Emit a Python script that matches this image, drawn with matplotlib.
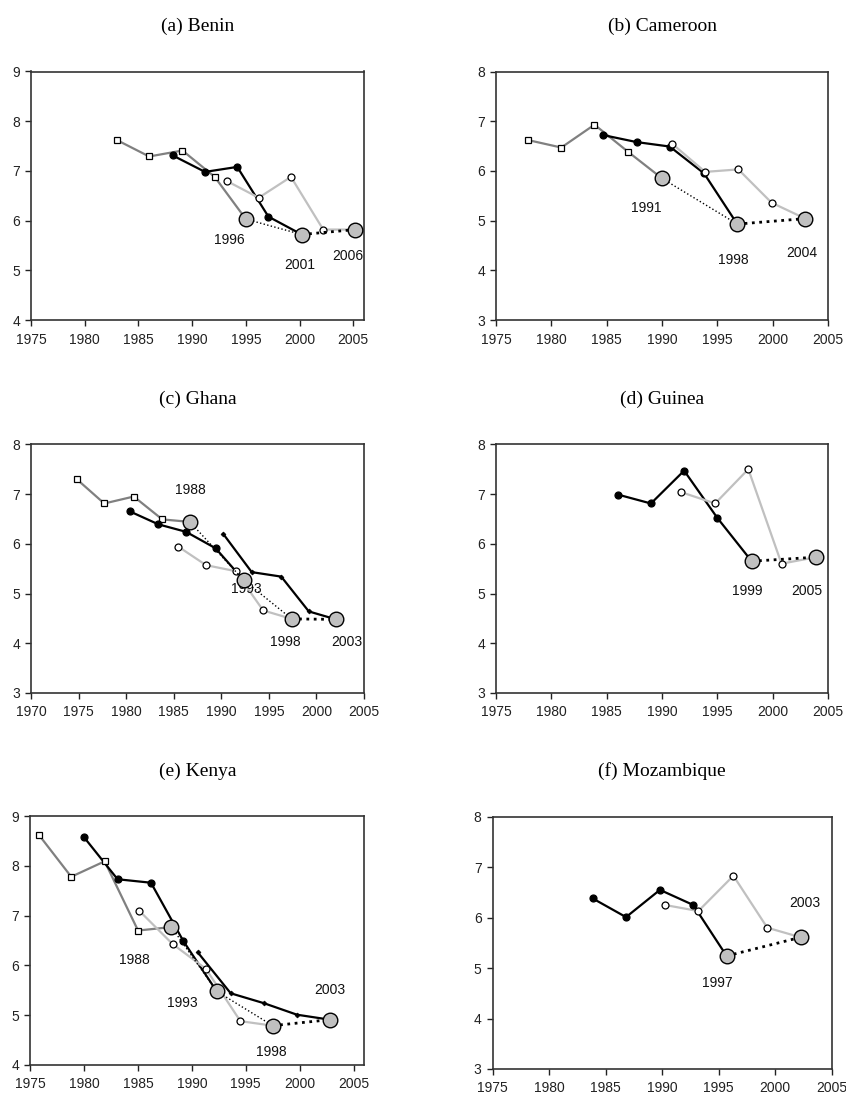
import matplotlib
matplotlib.use('Agg')
import matplotlib.pyplot as plt

W, H = 846, 1097

# ---- data (year, TFR) ----
# (a) Benin
benin_sq_x = [1983.0, 1986.0, 1989.1, 1992.1]
benin_sq_y = [7.62, 7.29, 7.41, 6.88]
benin_bc_x = [1988.2, 1991.2, 1994.2, 1997.1]
benin_bc_y = [7.31, 6.98, 7.08, 6.08]
benin_oc_x = [1993.2, 1996.2, 1999.2, 2002.2]
benin_oc_y = [6.80, 6.46, 6.88, 5.82]
benin_sv_x = [1995.0, 2000.2, 2005.2]
benin_sv_y = [6.03, 5.72, 5.82]
benin_labels = ["1996", "2001", "2006"]
benin_lab_x = [1993.5, 2000.0, 2004.5]
benin_lab_y = [5.61, 5.11, 5.28]

# (b) Cameroon
cam_sq_x = [1977.9, 1980.9, 1983.9, 1986.9]
cam_sq_y = [6.62, 6.47, 6.93, 6.39]
cam_bc_x = [1984.7, 1987.7, 1990.7, 1993.8]
cam_bc_y = [6.72, 6.58, 6.49, 5.95]
cam_oc_x = [1990.9, 1993.9, 1996.9, 1999.9]
cam_oc_y = [6.55, 5.98, 6.03, 5.36]
cam_sv_x = [1990.0, 1996.8, 2002.95]
cam_sv_y = [5.85, 4.93, 5.04]
cam_labels = ["1991", "1998", "2004"]
cam_lab_x = [1988.6, 1996.4, 2002.6]
cam_lab_y = [5.26, 4.21, 4.34]

# (c) Ghana
gha_sq_x = [1974.8, 1977.7, 1980.8, 1983.8]
gha_sq_y = [7.30, 6.81, 6.95, 6.49]
gha_bc_x = [1980.4, 1983.4, 1986.3, 1989.4]
gha_bc_y = [6.65, 6.39, 6.24, 5.91]
gha_oc_x = [1985.5, 1988.4, 1991.5, 1994.4]
gha_oc_y = [5.94, 5.57, 5.45, 4.66]
gha_dm_x = [1990.2, 1993.2, 1996.3, 1999.2]
gha_dm_y = [6.20, 5.43, 5.34, 4.64]
gha_sv_x = [1986.7, 1992.35, 1997.4, 2002.06]
gha_sv_y = [6.44, 5.27, 4.49, 4.48]
gha_labels = ["1988", "1993", "1998", "2003"]
gha_lab_x = [1986.8, 1992.6, 1996.7, 2003.2]
gha_lab_y = [7.09, 5.09, 4.02, 4.02]

# (d) Guinea
gui_bc_x = [1986.0, 1989.0, 1992.0, 1995.0]
gui_bc_y = [6.99, 6.81, 7.47, 6.52]
gui_oc_x = [1991.7, 1994.8, 1997.8, 2000.8]
gui_oc_y = [7.04, 6.81, 7.50, 5.60]
gui_sv_x = [1998.1, 2003.9]
gui_sv_y = [5.65, 5.73]
gui_labels = ["1999", "2005"]
gui_lab_x = [1997.7, 2003.1]
gui_lab_y = [5.06, 5.06]

# (e) Kenya
ken_sq_x = [1975.8, 1978.8, 1981.9, 1985.0]
ken_sq_y = [8.62, 7.78, 8.09, 6.70]
ken_bc_x = [1980.0, 1983.1, 1986.2, 1989.2]
ken_bc_y = [8.57, 7.73, 7.66, 6.49]
ken_oc_x = [1985.1, 1988.2, 1991.3, 1994.5]
ken_oc_y = [7.10, 6.43, 5.93, 4.88]
ken_dm_x = [1990.55, 1993.6, 1996.7, 1999.75]
ken_dm_y = [6.26, 5.44, 5.24, 5.01]
ken_sv_x = [1988.1, 1992.3, 1997.5, 2002.8]
ken_sv_y = [6.77, 5.48, 4.79, 4.91]
ken_labels = ["1988", "1993", "1998", "2003"]
ken_lab_x = [1984.7, 1989.1, 1997.4, 2002.8]
ken_lab_y = [6.11, 5.25, 4.26, 5.50]

# (f) Mozambique
moz_bc_x = [1983.85, 1986.8, 1989.8, 1992.75]
moz_bc_y = [6.38, 6.01, 6.55, 6.25]
moz_oc_x = [1990.25, 1993.2, 1996.3, 1999.3]
moz_oc_y = [6.25, 6.13, 6.83, 5.80]
moz_sv_x = [1995.7, 2002.25]
moz_sv_y = [5.24, 5.61]
moz_labels = ["1997", "2003"]
moz_lab_x = [1994.9, 2002.6]
moz_lab_y = [4.70, 6.29]

# ---- styles ----
styles = {
    'sq': dict(color='#808080', marker='s', mfc='white', mec='black', ms=5, mew=0.9),
    'bc': dict(color='black', marker='o', mfc='black', mec='black', ms=5, mew=0.9),
    'oc': dict(color='#c0c0c0', marker='o', mfc='white', mec='black', ms=5, mew=0.9),
    'dm': dict(color='black', marker='D', mfc='black', mec='black', ms=2.5, mew=0.5),
}


def rect(l, r, t, b):
    return [l / W, 1 - b / H, (r - l) / W, (b - t) / H]


def series(ax, xs, ys, ex, ey, kind):
    st = styles[kind]
    # line runs on to the survey point it belongs to
    ax.plot(xs + [ex], ys + [ey], '-', color=st['color'], lw=1.6, zorder=2)
    ax.plot(xs, ys, ls='none', marker=st['marker'], mfc=st['mfc'], mec=st['mec'],
            ms=st['ms'], mew=st['mew'], zorder=3)


def surveys(ax, sx, sy, labels, lx, ly):
    n = len(sx)
    for i in range(n - 1):
        lw = 2.0 if i == n - 2 else 1.0
        ax.plot(sx[i:i + 2], sy[i:i + 2], ':', color='black', lw=lw, zorder=4)
    ax.plot(sx, sy, ls='none', marker='o', ms=10.5, mfc='#c0c0c0', mec='black',
            mew=1.0, zorder=5)
    for t, x, y in zip(labels, lx, ly):
        ax.text(x, y, t, ha='center', va='center', fontsize=10,
                family='Liberation Sans', color='#111111')


def setup(ax, title, x0, x1, y0, y1):
    ax.set_xlim(x0, x1)
    ax.set_ylim(y0, y1)
    ax.set_xticks(list(range(int(x0), 2006, 5)))
    ax.set_yticks(list(range(y0, y1 + 1)))
    ax.tick_params(direction='out', length=4, width=1, labelsize=10, colors='#222222')
    ax.tick_params(axis='x', pad=5)
    ax.tick_params(axis='y', pad=4)
    for lab in ax.get_xticklabels() + ax.get_yticklabels():
        lab.set_family('Liberation Sans')
    for s in ax.spines.values():
        s.set_linewidth(1.2)
        s.set_color('#333333')
    ax.set_title(title, fontsize=14, family='Liberation Serif', pad=29)


fig = plt.figure(figsize=(W / 100, H / 100), dpi=100)

# (a) Benin
ax = fig.add_axes(rect(31, 364, 71.5, 320))
setup(ax, '(a) Benin', 1975, 2006, 4, 9)
series(ax, benin_sq_x, benin_sq_y, benin_sv_x[0], benin_sv_y[0], 'sq')
series(ax, benin_bc_x, benin_bc_y, benin_sv_x[1], benin_sv_y[1], 'bc')
series(ax, benin_oc_x, benin_oc_y, benin_sv_x[2], benin_sv_y[2], 'oc')
surveys(ax, benin_sv_x, benin_sv_y, benin_labels, benin_lab_x, benin_lab_y)

# (b) Cameroon
ax = fig.add_axes(rect(496, 828, 71.5, 320))
setup(ax, '(b) Cameroon', 1975, 2005, 3, 8)
series(ax, cam_sq_x, cam_sq_y, cam_sv_x[0], cam_sv_y[0], 'sq')
series(ax, cam_bc_x, cam_bc_y, cam_sv_x[1], cam_sv_y[1], 'bc')
series(ax, cam_oc_x, cam_oc_y, cam_sv_x[2], cam_sv_y[2], 'oc')
surveys(ax, cam_sv_x, cam_sv_y, cam_labels, cam_lab_x, cam_lab_y)

# (c) Ghana
ax = fig.add_axes(rect(31, 364, 444.3, 693))
setup(ax, '(c) Ghana', 1970, 2005, 3, 8)
series(ax, gha_sq_x, gha_sq_y, gha_sv_x[0], gha_sv_y[0], 'sq')
series(ax, gha_bc_x, gha_bc_y, gha_sv_x[1], gha_sv_y[1], 'bc')
series(ax, gha_oc_x, gha_oc_y, gha_sv_x[2], gha_sv_y[2], 'oc')
series(ax, gha_dm_x, gha_dm_y, gha_sv_x[3], gha_sv_y[3], 'dm')
surveys(ax, gha_sv_x, gha_sv_y, gha_labels, gha_lab_x, gha_lab_y)

# (d) Guinea
ax = fig.add_axes(rect(496, 828, 444.3, 693))
setup(ax, '(d) Guinea', 1975, 2005, 3, 8)
series(ax, gui_bc_x, gui_bc_y, gui_sv_x[0], gui_sv_y[0], 'bc')
series(ax, gui_oc_x, gui_oc_y, gui_sv_x[1], gui_sv_y[1], 'oc')
surveys(ax, gui_sv_x, gui_sv_y, gui_labels, gui_lab_x, gui_lab_y)

# (e) Kenya
ax = fig.add_axes(rect(30.3, 364.3, 816, 1065))
setup(ax, '(e) Kenya', 1975, 2006, 4, 9)
series(ax, ken_sq_x, ken_sq_y, ken_sv_x[0], ken_sv_y[0], 'sq')
series(ax, ken_bc_x, ken_bc_y, ken_sv_x[1], ken_sv_y[1], 'bc')
series(ax, ken_oc_x, ken_oc_y, ken_sv_x[2], ken_sv_y[2], 'oc')
series(ax, ken_dm_x, ken_dm_y, ken_sv_x[3], ken_sv_y[3], 'dm')
surveys(ax, ken_sv_x, ken_sv_y, ken_labels, ken_lab_x, ken_lab_y)

# (f) Mozambique
ax = fig.add_axes(rect(492.7, 831.7, 816.7, 1069))
setup(ax, '(f) Mozambique', 1975, 2005, 3, 8)
series(ax, moz_bc_x, moz_bc_y, moz_sv_x[0], moz_sv_y[0], 'bc')
series(ax, moz_oc_x, moz_oc_y, moz_sv_x[1], moz_sv_y[1], 'oc')
surveys(ax, moz_sv_x, moz_sv_y, moz_labels, moz_lab_x, moz_lab_y)

fig.savefig('out.png', dpi=100)
